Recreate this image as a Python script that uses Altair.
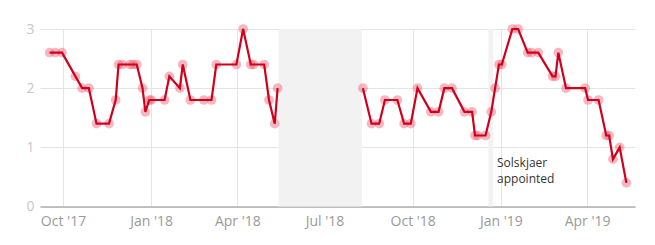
import altair as alt
import pandas as pd

# Season 2017-18: rolling 5-game average points
dates1 = ["2017-09-17","2017-09-23","2017-09-30","2017-10-14","2017-10-21","2017-10-28",
          "2017-11-05","2017-11-18","2017-11-25","2017-11-28","2017-12-02","2017-12-10",
          "2017-12-13","2017-12-17","2017-12-23","2017-12-26","2017-12-30","2018-01-01",
          "2018-01-15","2018-01-20","2018-01-31","2018-02-03","2018-02-11","2018-02-25",
          "2018-03-05","2018-03-10","2018-03-31","2018-04-07","2018-04-15","2018-04-18",
          "2018-04-29","2018-05-04","2018-05-10","2018-05-13"]
values1 = [2.6,2.6,2.6,2.2,2.0,2.0,1.4,1.4,1.8,2.4,2.4,2.4,2.4,2.4,2.0,1.6,1.8,1.8,
           1.8,2.2,2.0,2.4,1.8,1.8,1.8,2.4,2.4,3.0,2.4,2.4,2.4,1.8,1.4,2.0]

# Season 2018-19
dates2 = ["2018-08-10","2018-08-19","2018-08-27","2018-09-02","2018-09-15","2018-09-22",
          "2018-09-29","2018-10-06","2018-10-20","2018-10-28","2018-11-03","2018-11-11",
          "2018-11-24","2018-12-02","2018-12-05","2018-12-08","2018-12-16","2018-12-22",
          "2018-12-26","2018-12-30","2019-01-02","2019-01-13","2019-01-19","2019-01-29",
          "2019-02-02","2019-02-09","2019-02-24","2019-02-27","2019-03-02","2019-03-10",
          "2019-03-30","2019-04-02","2019-04-13","2019-04-21","2019-04-24","2019-04-28",
          "2019-05-05","2019-05-12"]
values2 = [2.0,1.4,1.4,1.8,1.8,1.4,1.4,2.0,1.6,1.6,2.0,2.0,1.6,1.6,1.2,1.2,1.2,1.6,
           2.0,2.4,2.4,3.0,3.0,2.6,2.6,2.6,2.2,2.2,2.6,2.0,2.0,1.8,1.8,1.2,1.2,0.8,1.0,0.4]

# Shaded periods
shade_start = ["2018-05-14", "2018-12-19"]
shade_end = ["2018-08-09", "2018-12-24"]

# Annotation
note_date = ["2018-12-28"]
note_y = [0.74]
note_text = ["Solskjaer\nappointed"]

tick_values = [alt.DateTime(year=2017, month=10, date=1), alt.DateTime(year=2018, month=1, date=1),
               alt.DateTime(year=2018, month=4, date=1), alt.DateTime(year=2018, month=7, date=1),
               alt.DateTime(year=2018, month=10, date=1), alt.DateTime(year=2019, month=1, date=1),
               alt.DateTime(year=2019, month=4, date=1)]

df = pd.DataFrame({
    "date": dates1 + dates2,
    "value": values1 + values2,
    "season": ["2017-18"] * len(dates1) + ["2018-19"] * len(dates2),
})
shade = pd.DataFrame({"start": shade_start, "end": shade_end})
notes = pd.DataFrame({"date": note_date, "y": note_y, "label": note_text})

W, H = 595, 177.5
FONT = "Open Sans"

xscale = alt.Scale(domain=[alt.DateTime(year=2017, month=9, date=7),
                           alt.DateTime(year=2019, month=5, date=21)])
yscale = alt.Scale(domain=[0, 3])

xaxis = alt.Axis(values=tick_values, format="%b '%y", title=None, grid=True,
                 gridColor="#e4e4e4", ticks=False, domainColor="#b0b0b0", domainWidth=1.5,
                 labelColor="#9a9a9a", labelFontSize=14, labelPadding=8, labelFont=FONT)
yaxis = alt.Axis(values=[0, 1, 2, 3], title=None, grid=True, gridColor="#e4e4e4",
                 ticks=False, domain=False, labelColor="#c8c8c8", labelFontSize=14,
                 labelPadding=6, labelFont=FONT)

rects = alt.Chart(shade).mark_rect(color="#f2f2f2").encode(
    x=alt.X("start:T", scale=xscale, axis=xaxis),
    x2="end:T",
    y=alt.value(0),
    y2=alt.value(H),
)

grid = alt.Chart(df).mark_point(opacity=0).encode(
    x=alt.X("date:T", scale=xscale, axis=xaxis),
    y=alt.Y("value:Q", scale=yscale, axis=yaxis),
)

points = alt.Chart(df).mark_circle(size=95, color="#ea4a62", opacity=0.4).encode(
    x=alt.X("date:T", scale=xscale, axis=xaxis),
    y=alt.Y("value:Q", scale=yscale, axis=yaxis),
)

line = alt.Chart(df).mark_line(color="#d0001c", strokeWidth=2.2).encode(
    x=alt.X("date:T", scale=xscale, axis=xaxis),
    y=alt.Y("value:Q", scale=yscale, axis=yaxis),
    detail="season:N",
)

text = alt.Chart(notes).mark_text(align="left", baseline="middle", fontSize=12,
                                  font=FONT, color="#333333", lineBreak="\n",
                                  lineHeight=16.5).encode(
    x=alt.X("date:T", scale=xscale, axis=xaxis),
    y=alt.Y("y:Q", scale=yscale, axis=yaxis),
    text="label:N",
)

chart = alt.layer(rects, grid, points, line, text).properties(
    width=W, height=H,
    autosize=alt.AutoSizeParams(type="none"),
    padding={"left": 40, "top": 29, "right": 20, "bottom": 38},
).configure_view(stroke=None)

chart.save("out.html", embed_options={"renderer": "svg", "actions": False})
